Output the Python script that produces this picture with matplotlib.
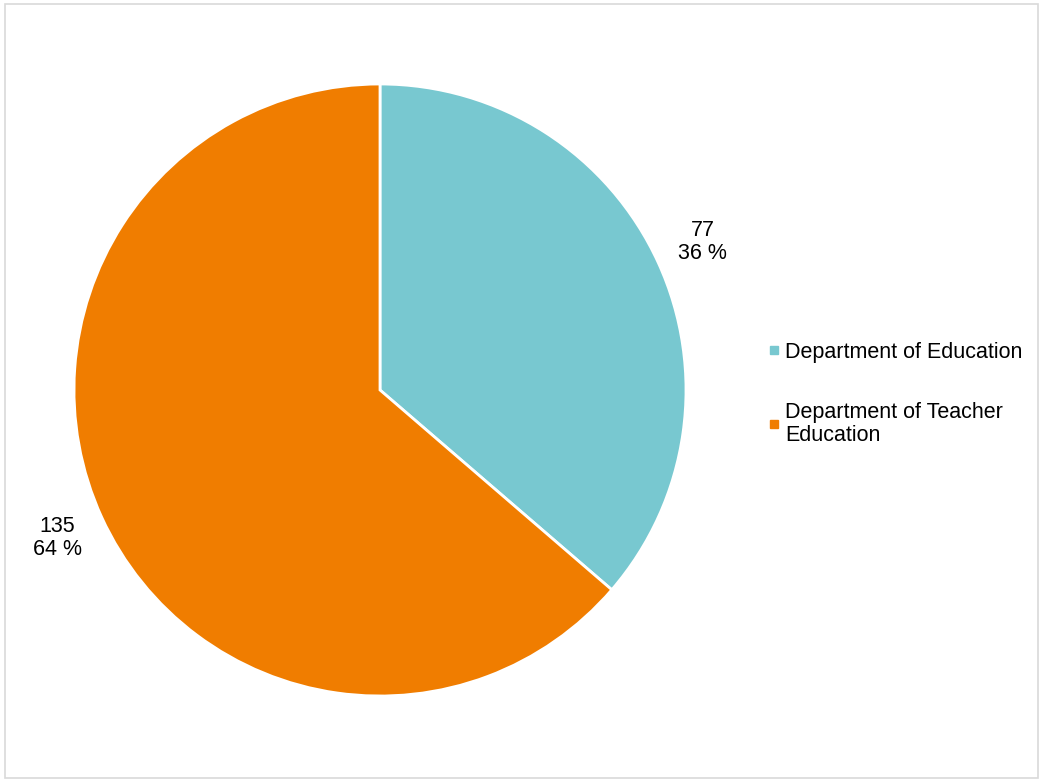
import matplotlib.pyplot as plt
from matplotlib.lines import Line2D
from matplotlib.patches import Rectangle

plt.rcParams['font.family'] = ['Liberation Sans', 'DejaVu Sans']

departments = ["Department of Education", "Department of Teacher\nEducation"]
counts = [77, 135]
colors = ["#78C8D0", "#F07D00"]

W, H = 1043, 782
fig = plt.figure(figsize=(W / 100, H / 100), dpi=100)

# thin grey frame round the chart area
fig.patches.append(Rectangle((5 / W, 4 / H), 1033 / W, 774 / H, transform=fig.transFigure,
                             fill=False, edgecolor="#D9D9D9", linewidth=1.2))

cx, cy, r = 380, 390, 306
ax = fig.add_axes([(cx - r) / W, (H - cy - r) / H, 2 * r / W, 2 * r / H])

total = sum(counts)
labels = [f"{c}\n{round(100 * c / total)} %" for c in counts]
wedges, texts = ax.pie(counts, colors=colors, startangle=90, counterclock=False,
                       labels=labels, labeldistance=1.16, radius=1,
                       wedgeprops=dict(edgecolor="white", linewidth=2),
                       textprops=dict(fontsize=15.5, color="black", ha="center",
                                      va="center", multialignment="center",
                                      linespacing=1.1))
ax.set_xlim(-1, 1)
ax.set_ylim(-1, 1)
ax.set_aspect("equal")

handles = [Line2D([], [], linestyle="none", marker="s", markersize=6,
                  markerfacecolor=c, markeredgecolor=c) for c in colors]
leg = fig.legend(handles, departments, loc="center left",
                 bbox_to_anchor=(757 / W, (H - 394) / H), frameon=False,
                 fontsize=15.5, handlelength=0.6, handletextpad=0.2,
                 labelspacing=1.8, borderpad=0)
for t in leg.get_texts():
    t.set_linespacing(1.15)

fig.savefig("out.png", dpi=100)
